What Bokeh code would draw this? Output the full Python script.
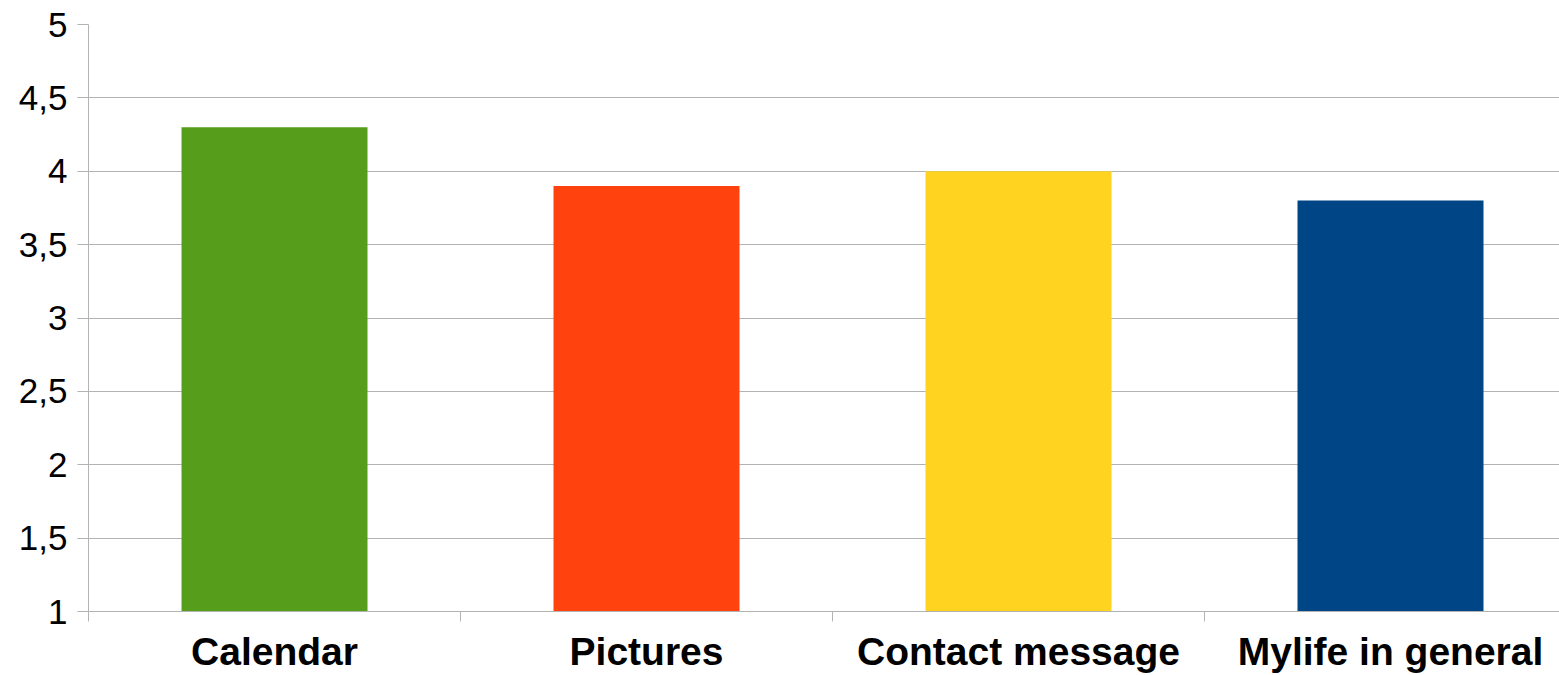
from bokeh.plotting import figure
from bokeh.models import FixedTicker, CustomJSTickFormatter, Range1d
from bokeh.embed import file_html
from bokeh.resources import INLINE

categories = ["Calendar", "Pictures", "Contact message", "Mylife in general"]
values = [4.3, 3.9, 4.0, 3.8]
colors = ["#579d1c", "#ff420e", "#ffd320", "#004586"]
y_ticks = [1, 1.5, 2, 2.5, 3, 3.5, 4, 4.5, 5]

n = len(categories)
centers = [i + 0.5 for i in range(n)]
bounds = [float(i) for i in range(n + 1)]

W, H = 1559, 675
left, top, bottom = 88, 24, 63
plot_w = W - left
slot_px = 372.0
x_end = plot_w / slot_px

p = figure(width=W, height=H, output_backend="svg", toolbar_location=None,
           x_range=Range1d(0, x_end), y_range=Range1d(1, 5),
           min_border_left=left, min_border_right=0, min_border_top=top,
           min_border_bottom=bottom)
p.outline_line_color = None
p.background_fill_color = "white"
p.border_fill_color = "white"

p.vbar(x=centers, top=values, bottom=1, width=0.5, fill_color=colors,
       line_color=None)

grid_color = "#b3b3b3"
p.xgrid.visible = False
p.ygrid.grid_line_color = grid_color
p.ygrid.grid_line_width = 1

# y axis
p.yaxis.ticker = FixedTicker(ticks=y_ticks)
p.yaxis.formatter = CustomJSTickFormatter(code="return tick.toString().replace('.', ',');")
p.yaxis.axis_line_color = grid_color
p.yaxis.major_tick_line_color = grid_color
p.yaxis.major_tick_out = 11
p.yaxis.major_tick_in = 0
p.yaxis.minor_tick_line_color = None
p.yaxis.major_label_text_font = "Liberation Sans"
p.yaxis.major_label_text_font_size = "35px"
p.yaxis.major_label_text_color = "black"
p.yaxis.major_label_standoff = 10

# x axis
p.xaxis.ticker = FixedTicker(ticks=centers, minor_ticks=bounds)
p.xaxis.major_label_overrides = {c: lab for c, lab in zip(centers, categories)}
p.xaxis.axis_line_color = grid_color
p.xaxis.major_tick_line_color = None
p.xaxis.major_tick_out = 0
p.xaxis.major_tick_in = 0
p.xaxis.minor_tick_line_color = grid_color
p.xaxis.minor_tick_out = 10
p.xaxis.minor_tick_in = 0
p.xaxis.major_label_text_font = "Liberation Sans"
p.xaxis.major_label_text_font_style = "bold"
p.xaxis.major_label_text_font_size = "39px"
p.xaxis.major_label_text_color = "black"
p.xaxis.major_label_standoff = 8

open("out.html", "w").write(file_html(p, INLINE))
